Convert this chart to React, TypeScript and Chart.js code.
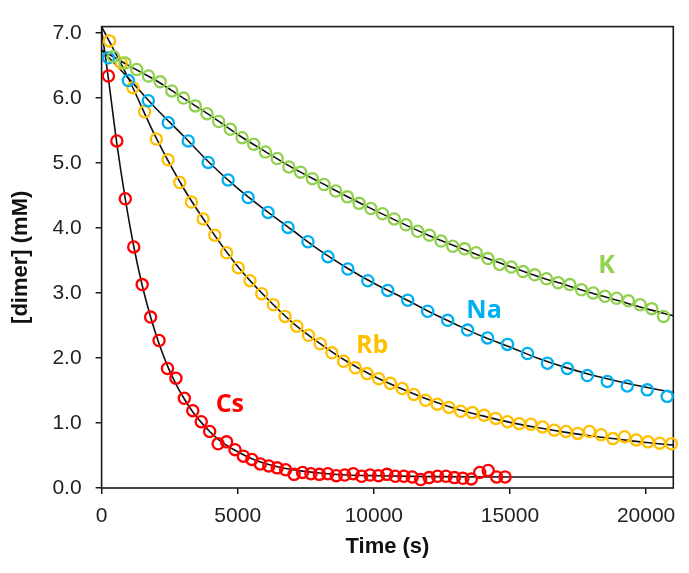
import { useEffect, useRef } from "react";
import { Chart, registerables } from "chart.js";
Chart.register(...registerables);

const xTicks = [0, 5000, 10000, 15000, 20000];
const yTicks = [0, 1, 2, 3, 4, 5, 6, 7];

const kTime = [430, 860, 1290, 1720, 2150, 2580, 3010, 3440, 3870, 4300, 4730, 5160, 5590, 6020, 6450, 6880, 7310, 7740, 8170, 8600, 9030, 9460, 9890, 10320, 10750, 11180, 11610, 12040, 12470, 12900, 13330, 13760, 14190, 14620, 15050, 15480, 15910, 16340, 16770, 17200, 17630, 18060, 18490, 18920, 19350, 19780, 20210, 20640];
const kConc = [6.64, 6.54, 6.44, 6.34, 6.25, 6.11, 6.00, 5.88, 5.76, 5.64, 5.52, 5.39, 5.29, 5.17, 5.07, 4.94, 4.86, 4.76, 4.67, 4.57, 4.48, 4.38, 4.30, 4.22, 4.14, 4.05, 3.95, 3.89, 3.80, 3.72, 3.68, 3.62, 3.53, 3.44, 3.40, 3.33, 3.28, 3.22, 3.16, 3.13, 3.05, 3.00, 2.95, 2.92, 2.88, 2.82, 2.76, 2.64];

const naTime = [250, 983, 1716, 2449, 3182, 3915, 4648, 5381, 6114, 6847, 7580, 8313, 9046, 9779, 10512, 11245, 11978, 12711, 13444, 14177, 14910, 15643, 16376, 17109, 17842, 18575, 19308, 20041, 20774];
const naConc = [6.62, 6.27, 5.96, 5.62, 5.34, 5.01, 4.74, 4.47, 4.24, 4.01, 3.79, 3.56, 3.37, 3.19, 3.04, 2.89, 2.72, 2.58, 2.43, 2.31, 2.21, 2.07, 1.92, 1.84, 1.73, 1.64, 1.57, 1.51, 1.41];

const rbTime = [290, 720, 1150, 1580, 2010, 2440, 2870, 3300, 3730, 4160, 4590, 5020, 5450, 5880, 6310, 6740, 7170, 7600, 8030, 8460, 8890, 9320, 9750, 10180, 10610, 11040, 11470, 11900, 12330, 12760, 13190, 13620, 14050, 14480, 14910, 15340, 15770, 16200, 16630, 17060, 17490, 17920, 18350, 18780, 19210, 19640, 20070, 20500, 20930];
const rbConc = [6.88, 6.54, 6.16, 5.79, 5.37, 5.05, 4.70, 4.40, 4.14, 3.89, 3.62, 3.39, 3.19, 2.99, 2.82, 2.64, 2.49, 2.35, 2.22, 2.08, 1.95, 1.85, 1.76, 1.68, 1.61, 1.53, 1.44, 1.35, 1.29, 1.24, 1.18, 1.16, 1.12, 1.07, 1.02, 0.99, 0.98, 0.94, 0.89, 0.87, 0.84, 0.87, 0.82, 0.76, 0.79, 0.74, 0.71, 0.69, 0.68];

const csTime = [250, 560, 870, 1180, 1490, 1800, 2110, 2420, 2730, 3040, 3350, 3660, 3970, 4280, 4590, 4900, 5210, 5520, 5830, 6140, 6450, 6760, 7070, 7380, 7690, 8000, 8310, 8620, 8930, 9240, 9550, 9860, 10170, 10480, 10790, 11100, 11410, 11720, 12030, 12340, 12650, 12960, 13270, 13580, 13890, 14200, 14510, 14820];
const csConc = [6.34, 5.34, 4.45, 3.71, 3.13, 2.63, 2.27, 1.84, 1.69, 1.38, 1.19, 1.02, 0.87, 0.68, 0.71, 0.59, 0.49, 0.44, 0.37, 0.34, 0.31, 0.28, 0.21, 0.24, 0.22, 0.21, 0.22, 0.19, 0.20, 0.22, 0.18, 0.20, 0.19, 0.21, 0.18, 0.18, 0.17, 0.13, 0.16, 0.18, 0.18, 0.16, 0.15, 0.14, 0.24, 0.27, 0.17, 0.17];

// fitted curves
const fitTime = [0, 1000, 2000, 3000, 4000, 5000, 6000, 7000, 8000, 9000, 10000, 11000, 12000, 13000, 14000, 15000, 16000, 17000, 18000, 19000, 20000, 21000];
const kFit = [6.74, 6.50, 6.27, 6.00, 5.73, 5.44, 5.18, 4.93, 4.71, 4.49, 4.28, 4.08, 3.89, 3.72, 3.56, 3.41, 3.26, 3.13, 3.00, 2.88, 2.76, 2.65];
const naFit = [6.74, 6.30, 5.84, 5.42, 4.99, 4.61, 4.28, 3.97, 3.66, 3.39, 3.15, 2.94, 2.72, 2.52, 2.33, 2.17, 2.00, 1.86, 1.74, 1.64, 1.55, 1.47];
const rbFit = [7.10, 6.29, 5.39, 4.62, 3.98, 3.41, 2.95, 2.55, 2.23, 1.95, 1.72, 1.53, 1.36, 1.22, 1.11, 1.01, 0.93, 0.86, 0.80, 0.75, 0.70, 0.66];
const csFitTime = [0, 250, 560, 870, 1180, 1490, 1800, 2110, 2420, 2730, 3040, 3350, 3660, 3970, 4280, 4900, 5520, 6140, 6760, 7380, 8000, 9000, 10000, 12000, 15000, 21000];
const csFit = [7.05, 6.30, 5.30, 4.45, 3.72, 3.12, 2.63, 2.22, 1.88, 1.60, 1.37, 1.17, 1.01, 0.87, 0.75, 0.58, 0.45, 0.36, 0.30, 0.26, 0.23, 0.20, 0.19, 0.175, 0.17, 0.17];

const seriesNames = ["K", "Na", "Rb", "Cs"];
const seriesColors = ["#92D050", "#00B0F0", "#FFC000", "#FF0000"];
// label anchor (data units: time, concentration of text baseline)
const labelTime = [18544, 14048, 9941, 4710];
const labelConc = [3.31, 2.61, 2.07, 1.17];

const toXY = (xs: number[], ys: number[]) => xs.map((x, i) => ({ x, y: ys[i] }));

const framePlugin = {
  id: "frame",
  beforeDatasetsDraw(chart: any) {
    const { ctx, chartArea: a } = chart;
    ctx.save();
    ctx.strokeStyle = "#1a1a1a";
    ctx.lineWidth = 1.6;
    ctx.strokeRect(a.left, a.top, a.right - a.left, a.bottom - a.top);
    ctx.restore();
  },
};

const labelPlugin = {
  id: "seriesLabels",
  afterDatasetsDraw(chart: any) {
    const { ctx, scales } = chart;
    ctx.save();
    ctx.font = "bold 25px 'Open Sans'";
    ctx.textAlign = "center";
    ctx.textBaseline = "alphabetic";
    seriesNames.forEach((n, i) => {
      ctx.fillStyle = seriesColors[i];
      ctx.fillText(n, scales.x.getPixelForValue(labelTime[i]), scales.y.getPixelForValue(labelConc[i]));
    });
    ctx.restore();
  },
};

export default function App() {
  const ref = useRef<HTMLCanvasElement>(null);
  useEffect(() => {
    document.body.style.margin = "0";
    const pointSets = [
      toXY(kTime, kConc),
      toXY(naTime, naConc),
      toXY(rbTime, rbConc),
      toXY(csTime, csConc),
    ];
    const fitSets = [
      toXY(fitTime, kFit),
      toXY(fitTime, naFit),
      toXY(fitTime, rbFit),
      toXY(csFitTime, csFit),
    ];
    const datasets: any[] = [];
    pointSets.forEach((d, i) => {
      datasets.push({
        label: seriesNames[i],
        data: d,
        showLine: false,
        pointRadius: 5.6,
        pointBorderWidth: 2.3,
        pointBorderColor: seriesColors[i],
        pointBackgroundColor: "rgba(0,0,0,0)",
        borderColor: seriesColors[i],
        clip: false,
        order: 0,
      });
    });
    fitSets.forEach((d, i) => {
      datasets.push({
        label: seriesNames[i] + " fit",
        data: d,
        showLine: true,
        pointRadius: 0,
        borderColor: "#111111",
        borderWidth: 1.6,
        cubicInterpolationMode: "monotone",
        order: 1,
      });
    });
    const tickFont = { family: "'Liberation Sans', Arial, sans-serif", size: 21 };
    const titleFont = { family: "'Liberation Sans', Arial, sans-serif", size: 22, weight: "bold" as const };
    const chart = new Chart(ref.current!, {
      type: "scatter",
      data: { datasets },
      plugins: [framePlugin, labelPlugin],
      options: {
        animation: false,
        responsive: true,
        maintainAspectRatio: false,
        layout: { padding: { top: 14, right: 15.7, left: 0, bottom: 0 } },
        plugins: { legend: { display: false }, tooltip: { enabled: false } },
        scales: {
          x: {
            type: "linear",
            min: 0,
            max: 21000,
            afterBuildTicks: (s: any) => {
              s.ticks = xTicks.map((v) => ({ value: v }));
            },
            afterFit: (s: any) => {
              s.height = 85;
            },
            ticks: {
              autoSkip: false,
              maxRotation: 0,
              padding: 10,
              color: "#222",
              font: tickFont,
              callback: (v: any) => String(v),
            },
            grid: { display: true, drawOnChartArea: false, drawTicks: true, tickLength: 6, color: "#1a1a1a", lineWidth: 1.5 },
            border: { display: false },
            title: { display: true, text: "Time (s)", color: "#111", font: titleFont, padding: { top: 0, bottom: 13 } },
          },
          y: {
            type: "linear",
            min: 0,
            max: 7.1,
            afterBuildTicks: (s: any) => {
              s.ticks = yTicks.map((v) => ({ value: v }));
            },
            afterFit: (s: any) => {
              s.width = 101.6;
            },
            ticks: {
              padding: 14,
              color: "#222",
              font: tickFont,
              callback: (v: any) => Number(v).toFixed(1),
            },
            grid: { display: true, drawOnChartArea: false, drawTicks: true, tickLength: 6, color: "#1a1a1a", lineWidth: 1.5 },
            border: { display: false },
            title: { display: true, text: "[dimer] (mM)", color: "#111", font: titleFont, padding: { top: 8, bottom: 0 } },
          },
        },
      },
    });
    return () => chart.destroy();
  }, []);
  return (
    <div style={{ width: 689, height: 573, position: "relative" }}>
      <canvas ref={ref} />
    </div>
  );
}
